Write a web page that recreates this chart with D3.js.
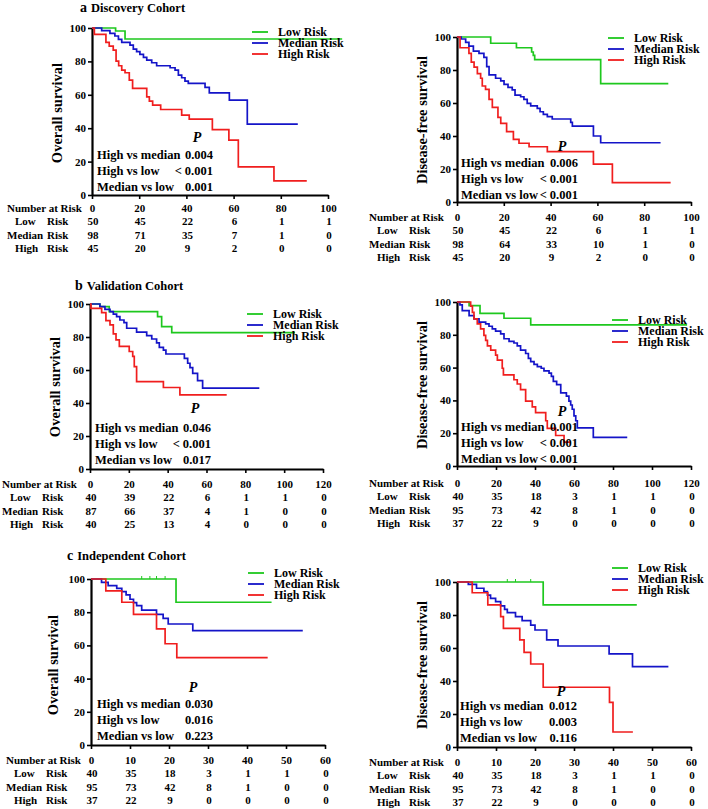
<!DOCTYPE html>
<html><head><meta charset="utf-8">
<script src="https://cdn.jsdelivr.net/npm/d3@7"></script>
<style>
body{margin:0;background:#fff;}
svg text{font-family:"Liberation Serif","Times New Roman",serif;font-weight:bold;fill:#000;}
</style></head><body>
<svg id="c" width="708" height="809"></svg>
<script>
// ---------- DATA ----------
const groups = ["Low", "Median", "High"];
const legendLabels = ["Low Risk", "Median Risk", "High Risk"];
const comparisons = ["High vs median", "High vs low", "Median vs low"];
const ticks100 = [0, 20, 40, 60, 80, 100];
const ticks120 = [0, 20, 40, 60, 80, 100, 120];
const ticks60 = [0, 10, 20, 30, 40, 50, 60];
const yTicks = [0, 20, 40, 60, 80, 100];

// a: Discovery cohort, overall survival
const discOsLow = [[0,100],[10,98.2],[14,93.4],[106,93.4]];
const discOsMed = [[0,100],[4.1,98.4],[7.6,96.8],[9.7,95.2],[11.2,93.2],[12.6,91.4],[16.1,89.8],[17.5,87.4],[18.9,85.8],[20.3,84.2],[21.8,82.4],[23.2,80.8],[25.3,79.2],[27.4,77.4],[33.1,76.2],[35.2,74.8],[36.6,71.8],[38,70.2],[39.4,68.2],[40.8,66.8],[47.9,64.4],[49.7,61.2],[58.2,56.8],[65.8,42.4],[87.2,42.4]];
const discOsHigh = [[0,100],[1,96.2],[5.9,91.4],[7.3,89.2],[9,86.8],[10.2,80.2],[11.3,77.4],[12.6,74.8],[14,73.2],[15.8,68.8],[17.2,63.8],[23.2,58.8],[24.3,56.2],[25.7,53.8],[29.1,51.2],[38,47.8],[41.2,45.4],[51,39.2],[58,32.8],[62,16.8],[77.1,8.4],[91,8.4]];
// a: Discovery cohort, disease-free survival
const discDfsLow = [[0,100],[14.4,96.2],[25.4,93.5],[31.9,90.9],[32.6,88.9],[33.2,86.3],[61.4,71.7],[90.3,71.7]];
const discDfsMed = [[0,100],[1.8,98.8],[3.7,96.8],[5.1,94.5],[7,91.5],[9.4,90.1],[11.5,87.7],[12.7,82.1],[13.7,77],[16.5,75],[18.7,73.4],[20.1,71.3],[21.8,69.5],[23.6,67.9],[24.8,64.8],[27.2,63.8],[28.6,62.2],[30,59.8],[31.5,58.2],[34.3,56.8],[35.5,54.7],[36.9,53.1],[38.6,51.7],[40.7,50.3],[48.6,48.3],[49.3,46],[58.3,40],[61.4,35.9],[87,35.9]];
const discDfsHigh = [[0,100],[1.3,93.5],[5.1,90.1],[6.1,84.8],[7.3,81.7],[8.7,77.8],[10.1,75],[10.8,70.3],[12.2,68.3],[13.7,62.2],[15.1,57.4],[17.5,51.3],[18.7,47.7],[21.2,42.6],[24.1,38],[26.5,35.6],[30.8,33.5],[38.6,30.5],[58.3,23],[66.4,11.7],[91.3,11.7]];
// b: Validation cohort, overall survival
const valOsLow = [[0,100],[5.1,98.4],[9.9,95.4],[34.8,92.4],[36.9,86.3],[42.1,82.6],[105.6,82.6]];
const valOsMed = [[0,100],[5.1,98.4],[7.7,96.7],[10.3,95.4],[12,93.9],[13.7,92.3],[15.4,90.3],[17.5,88.7],[18.9,85.3],[24,82.9],[29.2,80.8],[31.8,78.8],[34.3,76.5],[35.7,73.7],[37.8,72.1],[39.1,69.7],[48.6,67.1],[50.3,64.1],[51.5,61.4],[52.9,58],[55.4,53.6],[58,49],[87.2,49]];
const valOsHigh = [[0,100],[0.5,97.4],[6,94.8],[8.2,89.9],[10.3,87.3],[12,81.9],[13.4,78.3],[15.1,74.3],[20.2,71.2],[22,68.2],[22.8,62.1],[24,53],[37.8,49.4],[46.3,44.9],[70.4,44.9]];
// b: Validation cohort, disease-free survival
const valDfsLow = [[0,100],[6.2,97.8],[11.8,93.1],[24.1,90.1],[37.8,86.1],[118,86.1]];
const valDfsMed = [[0,100],[1.5,98.2],[2.7,94.7],[6.2,91.7],[8.7,89.7],[11.3,87.7],[14.7,86.7],[16.4,85.2],[18.1,83.6],[19.8,82.2],[22.4,80.6],[24.1,77.6],[26.7,76],[29.2,75],[30.9,73.2],[32.6,70.6],[35.2,68.6],[36.6,65.6],[37.8,63.6],[39.5,62],[41.2,60.6],[43.2,59.6],[44.6,58],[47.2,56.6],[48.4,54.6],[49.4,51.6],[51.1,49.6],[53.2,44.6],[56.1,42.6],[57.4,39.6],[58.3,37.2],[59.1,34.6],[60,30.6],[60.9,27.6],[61.7,23.2],[69.9,17.4],[87.3,17.4]];
const valDfsHigh = [[0,100],[7,97.5],[7.9,93.7],[8.7,89.7],[10.4,86.7],[12.1,83.6],[13.8,79.6],[14.7,76.6],[15.6,73.2],[17.3,70.6],[19.8,67.6],[20.7,64.6],[23.2,59.6],[23.8,55.6],[29.2,52.6],[30.9,50],[32.6,46.6],[35.2,39.6],[38.6,36],[40.3,32.6],[45.5,27.6],[46.3,23],[50.6,18.6],[54.9,14.5],[58.3,14.5]];
// c: Independent cohort, overall survival
const indOsLow = [[0,100],[21.8,86],[46.3,86]];
const indOsLowCensor = [13, 15.1, 16.8, 19];
const indOsMed = [[0,100],[2.7,98],[4.4,96],[6.6,94.4],[7.9,92.4],[9,90.4],[10,87.8],[10.9,85.8],[11.7,84],[13,81.3],[16.8,78.7],[18.5,76.3],[19.8,72.9],[26.1,68.9],[54.3,68.9]];
const indOsHigh = [[0,100],[3.8,92.8],[7.9,86],[10.9,78.7],[16.8,70],[19,61],[22,52.6],[45.3,52.6]];
// c: Independent cohort, disease-free survival
const indDfsLow = [[0,100],[22.1,86.1],[46.1,86.1]];
const indDfsLowCensor = [12.9, 15, 18.9];
const indDfsMed = [[0,100],[2.9,98.6],[5,96.2],[6.9,94.2],[7.8,92.1],[8.6,90.1],[9.9,88.1],[11.2,85.5],[12.2,83.4],[12.9,81.4],[15,79],[16.7,76.6],[18.9,73.9],[20,70.9],[23,64.9],[25.9,61.2],[39,56.4],[45,48.7],[54.2,48.7]];
const indDfsHigh = [[0,100],[3.9,93.5],[7.9,86.1],[11.2,79],[11.9,71.9],[16.1,64.9],[17.2,57.4],[18.9,50.3],[22.1,36.2],[39.1,27.1],[40,9.1],[45.1,9.1]];

// numbers at risk
const discOsRisk = [[50,45,22,6,1,1],[98,71,35,7,1,0],[45,20,9,2,0,0]];
const discDfsRisk = [[50,45,22,6,1,1],[98,64,33,10,1,0],[45,20,9,2,0,0]];
const valOsRisk = [[40,39,22,6,1,1,0],[87,66,37,4,1,0,0],[40,25,13,4,0,0,0]];
const valDfsRisk = [[40,35,18,3,1,1,0],[95,73,42,8,1,0,0],[37,22,9,0,0,0,0]];
const indOsRisk = [[40,35,18,3,1,1,0],[95,73,42,8,1,0,0],[37,22,9,0,0,0,0]];
const indDfsRisk = [[40,35,18,3,1,1,0],[95,73,42,8,1,0,0],[37,22,9,0,0,0,0]];

// p values
const discOsP = ["0.004", "< 0.001", "0.001"];
const discDfsP = ["0.006", "< 0.001", "< 0.001"];
const valOsP = ["0.046", "< 0.001", "0.017"];
const valDfsP = ["0.001", "< 0.001", "< 0.001"];
const indOsP = ["0.030", "0.016", "0.223"];
const indDfsP = ["0.012", "0.003", "0.116"];

const cohortTitles = [["a","Discovery Cohort"],["b","Validation Cohort"],["c","Independent Cohort"]];
const yTitles = ["Overall survival", "Disease-free survival"];

// ---------- LAYOUT ----------
const colors = ["#1ec81e", "#1414c8", "#f01e1e"];
const panels = [
  {curves:[discOsLow,discOsMed,discOsHigh], risk:discOsRisk, p:discOsP, ticks:ticks100, yTitle:0,
   x0:92,x1:328,yT:28,yB:195, ylx:57,yly:113, lgX:252,lgY:32, pX:97,pPx:197,pPy:137,pY:155,pEnd:213, hY:208, rowX:0},
  {curves:[discDfsLow,discDfsMed,discDfsHigh], risk:discDfsRisk, p:discDfsP, ticks:ticks100, yTitle:1,
   x0:457,x1:691,yT:37,yB:202, ylx:422,yly:120, lgX:608,lgY:38, pX:461,pPx:562,pPy:146,pY:163,pEnd:578, hY:217, rowX:362},
  {curves:[valOsLow,valOsMed,valOsHigh], risk:valOsRisk, p:valOsP, ticks:ticks120, yTitle:0,
   x0:90,x1:323,yT:304,yB:469, ylx:55,yly:387, lgX:247,lgY:314, pX:95,pPx:195,pPy:408,pY:428,pEnd:211, hY:484, rowX:-5},
  {curves:[valDfsLow,valDfsMed,valDfsHigh], risk:valDfsRisk, p:valDfsP, ticks:ticks120, yTitle:1,
   x0:457,x1:691,yT:302,yB:466, ylx:422,yly:385, lgX:612,lgY:320, pX:461,pPx:562,pPy:411,pY:427,pEnd:578, hY:483, rowX:362},
  {curves:[indOsLow,indOsMed,indOsHigh], censor:indOsLowCensor, risk:indOsRisk, p:indOsP, ticks:ticks60, yTitle:0,
   x0:91,x1:325,yT:579,yB:745, ylx:53,yly:665, lgX:248,lgY:573, pX:97,pPx:193,pPy:687,pY:704,pEnd:213, hY:760, rowX:-1},
  {curves:[indDfsLow,indDfsMed,indDfsHigh], censor:indDfsLowCensor, risk:indDfsRisk, p:indDfsP, ticks:ticks60, yTitle:1,
   x0:457,x1:691,yT:582,yB:747, ylx:422,yly:665, lgX:612,lgY:568, pX:460,pPx:561,pPy:691,pY:706,pEnd:577, hY:762, rowX:362}
];
const titlePos = [[80,12],[75,290],[67,560]];

const svg = d3.select("#c");

cohortTitles.forEach((t,i) => {
  const tx = svg.append("text").attr("x", titlePos[i][0]).attr("y", titlePos[i][1]);
  tx.append("tspan").attr("font-size", 14).text(t[0]);
  tx.append("tspan").attr("font-size", 12.5).attr("dx", 4).text(t[1]);
});

panels.forEach(P => {
  const g = svg.append("g");
  const xMax = P.ticks[P.ticks.length-1];
  const x = d3.scaleLinear().domain([0, xMax]).range([P.x0, P.x1]);
  const y = d3.scaleLinear().domain([0, 100]).range([P.yB, P.yT]);

  // y axis
  const ya = g.append("g").attr("transform", `translate(${P.x0},0)`)
    .call(d3.axisLeft(y).tickValues(yTicks).tickSize(4).tickSizeOuter(0).tickPadding(2));
  ya.attr("font-family", null);
  ya.select(".domain").attr("stroke-width", 2.2);
  ya.selectAll(".tick line").attr("stroke-width", 1.6);
  ya.selectAll("text").attr("font-size", 11);

  // x axis
  const xa = g.append("g").attr("transform", `translate(0,${P.yB})`)
    .call(d3.axisBottom(x).tickValues(P.ticks).tickSize(4).tickSizeOuter(0));
  xa.attr("font-family", null);
  xa.select(".domain").attr("stroke-width", 2.2);
  xa.selectAll(".tick line").attr("stroke-width", 1.6);
  xa.selectAll("text").attr("font-size", 11)
    .attr("y", P.hY - P.yB).attr("dy", "0.35em");

  // y title
  g.append("text").attr("transform", `translate(${P.ylx},${P.yly}) rotate(-90)`)
    .attr("text-anchor", "middle").attr("dy", "0.35em").attr("font-size", 14.5)
    .text(yTitles[P.yTitle]);

  // curves
  const line = d3.line().curve(d3.curveStepAfter).x(d => x(d[0])).y(d => y(d[1]));
  P.curves.forEach((c, i) => {
    g.append("path").datum(c).attr("d", line).attr("fill", "none")
      .attr("stroke", colors[i]).attr("stroke-width", 1.7);
  });
  if (P.censor) {
    const lv = P.curves[0][0][1];
    g.selectAll(".cens").data(P.censor).enter().append("line")
      .attr("x1", d => x(d)).attr("x2", d => x(d))
      .attr("y1", y(lv) - 3).attr("y2", y(lv)).attr("stroke", colors[0]).attr("stroke-width", 1);
  }

  // legend
  legendLabels.forEach((l, i) => {
    const yy = P.lgY + i * 11;
    g.append("line").attr("x1", P.lgX).attr("x2", P.lgX + 16).attr("y1", yy).attr("y2", yy)
      .attr("stroke", colors[i]).attr("stroke-width", 1.8);
    g.append("text").attr("x", P.lgX + 26).attr("y", yy).attr("dy", "0.35em")
      .attr("font-size", 12).text(l);
  });

  // p-values
  g.append("text").attr("x", P.pPx).attr("y", P.pPy).attr("dy", "0.35em")
    .attr("text-anchor", "middle").attr("font-size", 14).attr("font-style", "italic").text("P");
  comparisons.forEach((cmp, i) => {
    const yy = P.pY + i * 16;
    g.append("text").attr("x", P.pX).attr("y", yy).attr("dy", "0.35em").attr("font-size", 12.5).text(cmp);
    g.append("text").attr("x", P.pEnd).attr("y", yy).attr("dy", "0.35em").attr("font-size", 12.5)
      .attr("text-anchor", "end").text(P.p[i]);
  });

  // numbers at risk
  g.append("text").attr("x", P.rowX + 7).attr("y", P.hY).attr("dy", "0.35em")
    .attr("font-size", 11).text("Number at Risk");
  const firstX = [15, 7, 15];
  groups.forEach((gr, i) => {
    const yy = P.hY + (i + 1) * 13.4;
    g.append("text").attr("x", P.rowX + firstX[i]).attr("y", yy).attr("dy", "0.35em")
      .attr("font-size", 11).text(gr);
    g.append("text").attr("x", P.rowX + 47).attr("y", yy).attr("dy", "0.35em")
      .attr("font-size", 11).text("Risk");
    P.risk[i].forEach((v, j) => {
      g.append("text").attr("x", x(P.ticks[j]) + 1).attr("y", yy).attr("dy", "0.35em")
        .attr("text-anchor", "middle").attr("font-size", 11).text(v);
    });
  });
});
</script></body></html>
